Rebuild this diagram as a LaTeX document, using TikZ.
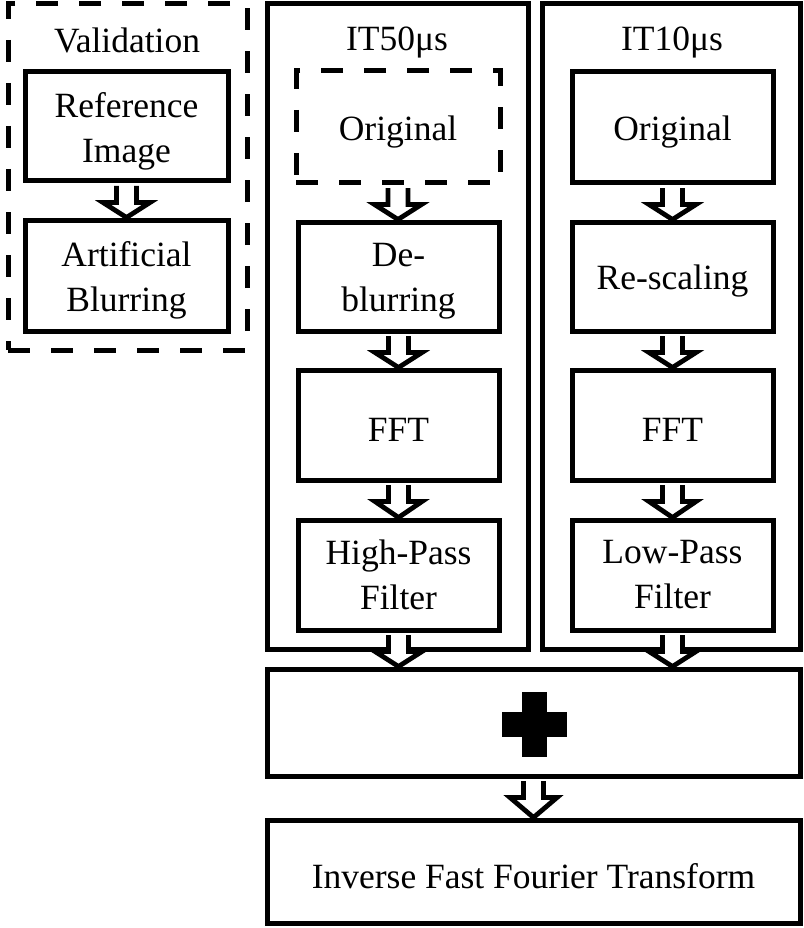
\documentclass[tikz,border=0pt]{standalone}
\usepackage{fontspec}
\setmainfont{Liberation Serif}
\usetikzlibrary{calc}
\tikzset{
  box/.style={draw=black, line width=5pt, rectangle, inner sep=0pt},
  dbox/.style={box, dash pattern=on 22pt off 21pt},
  lbl/.style={inner sep=0pt, align=center, font=\fontsize{35.5}{45}\selectfont},
  txt/.style={label={[lbl, yshift=-5pt]center:{#1}}},
  txtz/.style={label={[lbl]center:{#1}}},
  barrow/.style={draw=black, fill=white, line width=4.8pt, line join=miter},
}
\newcommand\blockarr[2]{%
  \draw[barrow] let \p1=(#1), \p2=(#2) in
    (\x1-10pt,\y1-2.5pt) -- (\x1-10pt,\y1-19pt) -- (\x1-23.5pt,\y1-19pt)
    -- (\x1,\y2) -- (\x1+23.5pt,\y1-19pt) -- (\x1+10pt,\y1-19pt)
    -- (\x1+10pt,\y1-2.5pt);}
\begin{document}
\begin{tikzpicture}[x=1pt,y=-1pt]
\useasboundingbox (0,0) rectangle (803,928);
% validation
\node[dbox, minimum width=239pt, minimum height=346pt] (val) at (127.5,177) {};
\node[lbl] (valt) at (127,40) {Validation};
\node[box, minimum width=203pt, minimum height=109pt, txt={Reference\\Image}] (ref) at (126.5,126.5) {};
\node[box, minimum width=203pt, minimum height=111pt, txt={Artificial\\Blurring}] (blur) at (126.5,275.5) {};
% IT50
\node[box, minimum width=261pt, minimum height=645pt] (f50) at (397.5,326.5) {};
\node[lbl] (f50t) at (397,42) {IT50μs};
\node[dbox, minimum width=204pt, minimum height=112pt, txt={Original}] (o50) at (398,127) {};
\node[box, minimum width=201pt, minimum height=109pt, txt={De-\\blurring}] (deb) at (398.5,276.5) {};
\node[box, minimum width=201pt, minimum height=110pt, txt={FFT}] (fft50) at (398.5,425) {};
\node[box, minimum width=201pt, minimum height=110pt, txtz={High-Pass\\Filter}] (hp) at (398.5,575) {};
% IT10
\node[box, minimum width=258pt, minimum height=645pt] (f10) at (671,326.5) {};
\node[lbl] (f10t) at (672,42) {IT10μs};
\node[box, minimum width=201pt, minimum height=111pt, txt={Original}] (o10) at (672.5,127.5) {};
\node[box, minimum width=201pt, minimum height=109pt, txt={Re-scaling}] (res) at (672.5,276.5) {};
\node[box, minimum width=201pt, minimum height=110pt, txt={FFT}] (fft10) at (672.5,425) {};
\node[box, minimum width=201pt, minimum height=110pt, txtz={Low-Pass\\Filter}] (lp) at (672.5,575) {};
% combine
\node[box, minimum width=533pt, minimum height=107pt] (comb) at (533.5,722.5) {};
\coordinate (plus) at (534,724);
\fill ($(plus)+(-12.5,-32.5)$) rectangle ($(plus)+(12.5,32.5)$);
\fill ($(plus)+(-32.5,-12.5)$) rectangle ($(plus)+(32.5,12.5)$);
\node[box, minimum width=533pt, minimum height=103pt, txt={Inverse Fast Fourier Transform}] (ifft) at (533.5,871.5) {};
% arrows
\blockarr{ref.south}{blur.north}
\blockarr{o50.south}{deb.north}
\blockarr{deb.south}{fft50.north}
\blockarr{fft50.south}{hp.north}
\blockarr{o10.south}{res.north}
\blockarr{res.south}{fft10.north}
\blockarr{fft10.south}{lp.north}
\blockarr{hp.south}{hp.south |- comb.north}
\blockarr{lp.south}{lp.south |- comb.north}
\blockarr{comb.south}{ifft.north}
\end{tikzpicture}
\end{document}
